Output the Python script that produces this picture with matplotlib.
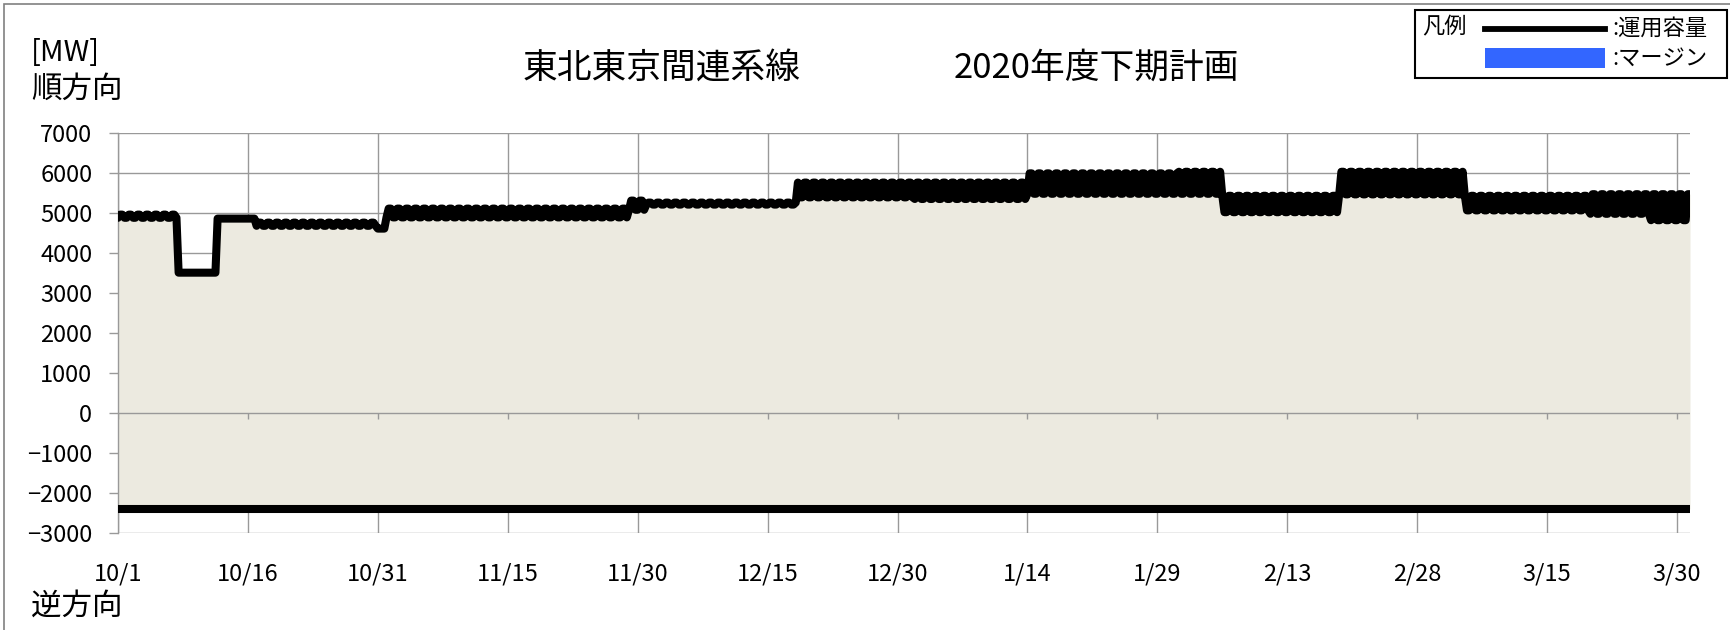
import matplotlib.pyplot as plt
import matplotlib.patches as mpatches
import matplotlib.markers as mmarkers
from matplotlib.lines import Line2D
import numpy as np
import pandas as pd

plt.rcParams['font.family'] = ['Noto Sans CJK JP', 'DejaVu Sans']

# 運用容量(順方向): 区間の開始時刻と、その区間の昼間・夜間の値 [MW]
seg_start = ['2020-10-01 00:00', '2020-10-08 00:00', '2020-10-12 12:00', '2020-10-17 00:00',
             '2020-10-31 00:00', '2020-11-01 00:00', '2020-11-29 00:00', '2020-12-01 00:00',
             '2020-12-18 12:00', '2021-01-01 00:00', '2021-01-14 00:00', '2021-01-31 12:00',
             '2021-02-05 12:00', '2021-02-19 00:00', '2021-03-05 12:00', '2021-03-20 00:00',
             '2021-03-27 00:00']
seg_day = [4950, 3500, 4850, 4750, 4600, 5100, 5300, 5250, 5750, 5750,
           5980, 6020, 5420, 6020, 5420, 5460, 5460]
seg_night = [4870, 3500, 4850, 4670, 4600, 4880, 5070, 5200, 5380, 5340,
             5470, 5470, 5010, 5455, 5055, 4970, 4810]
# 運用容量(逆方向)
reverse_cap = -2400

y_ticks = [-3000, -2000, -1000, 0, 1000, 2000, 3000, 4000, 5000, 6000, 7000]
x_tick_labels = ['10/1', '10/16', '10/31', '11/15', '11/30', '12/15', '12/30',
                 '1/14', '1/29', '2/13', '2/28', '3/15', '3/30']

# 6時間刻みの系列にする (6時・12時は昼間値、18時・0時は夜間値)
t = pd.date_range('2020-10-01 00:00', '2021-03-31 12:00', freq='6h')
starts = pd.to_datetime(seg_start).values
idx = np.searchsorted(starts, t.values, side='right') - 1
is_day = (t.hour == 6) | (t.hour == 12)
fwd = np.where(is_day, np.array(seg_day)[idx], np.array(seg_night)[idx])
days = np.asarray((t - t[0]) / pd.Timedelta(days=1))
rev = np.full(len(days), reverse_cap)
x_tick_days = [(pd.Timestamp(('2020/' if int(s.split('/')[0]) >= 10 else '2021/') + s) - t[0]).days
               for s in x_tick_labels]

W, H = 1730, 630
fig = plt.figure(figsize=(W / 100, H / 100), dpi=100)
ax = fig.add_axes([118 / W, 1 - 533 / H, (1690 - 118) / W, (533 - 132.5) / H])

grid_c = '#999999'
ax.fill_between(days, rev, fwd, color='#ECEAE0', lw=0, zorder=1)
ax.axhline(0, color=grid_c, lw=1.0, zorder=2)
ax.plot(x_tick_days, np.zeros(len(x_tick_days)), ls='none', marker=mmarkers.TICKDOWN,
        ms=4.5, mew=1.0, color=grid_c, zorder=2)
ax.plot(days, fwd, color='black', lw=5.8, solid_joinstyle='round', solid_capstyle='round', zorder=3)
ax.plot([days[0], days[-1]], [reverse_cap, reverse_cap], color='black', lw=5.8,
        solid_capstyle='projecting', zorder=3)

ax.set_xlim(0, 181.5)
ax.set_ylim(-3000, 7000)
ax.set_yticks(y_ticks)
ax.set_xticks(x_tick_days, x_tick_labels)
ax.grid(True, color=grid_c, lw=1.0)
ax.set_axisbelow(True)
for s in ['top', 'right', 'bottom']:
    ax.spines[s].set_visible(False)
ax.spines['left'].set_color(grid_c)
ax.spines['left'].set_linewidth(1.0)
ax.spines['left'].set_zorder(2.5)
ax.tick_params(axis='y', length=6.5, color=grid_c, width=1.0, labelsize=17, pad=12)
ax.tick_params(axis='x', length=0, labelsize=17, pad=21)
ax.set_facecolor('white')

def fx(px):
    return px / W

def fy(py):
    return 1 - py / H

# 見出し
fig.text(fx(31), fy(53), '[MW]', fontsize=21, va='center', ha='left')
fig.text(fx(31), fy(89), '順方向', fontsize=22, va='center', ha='left')
fig.text(fx(31), fy(606), '逆方向', fontsize=22, va='center', ha='left')
fig.text(fx(662), fy(68), '東北東京間連系線', fontsize=25, va='center', ha='center')
fig.text(fx(1096), fy(68), '2020年度下期計画', fontsize=25, va='center', ha='center')

# 外枠
fig.patches.append(mpatches.Rectangle((fx(4), -0.05), 1.2, fy(4) + 0.05, transform=fig.transFigure,
                                      fill=False, ec='#808080', lw=1.2))

# 凡例
fig.patches.append(mpatches.Rectangle((fx(1415), fy(78)), fx(1727 - 1415), (78 - 10) / H,
                                      transform=fig.transFigure, fc='white', ec='black', lw=1.5))
fig.text(fx(1422), fy(27), '凡例', fontsize=16, va='center', ha='left')
fig.lines.append(Line2D([fx(1485), fx(1605)], [fy(29), fy(29)], transform=fig.transFigure,
                        color='black', lw=4.2))
fig.patches.append(mpatches.Rectangle((fx(1485), fy(68)), fx(120), 20 / H, transform=fig.transFigure,
                                      fc='#3366FF', ec='none'))
fig.text(fx(1612), fy(28), ':運用容量', fontsize=16, va='center', ha='left')
fig.text(fx(1612), fy(58), ':マージン', fontsize=16, va='center', ha='left')

fig.savefig('out.png', dpi=100)
